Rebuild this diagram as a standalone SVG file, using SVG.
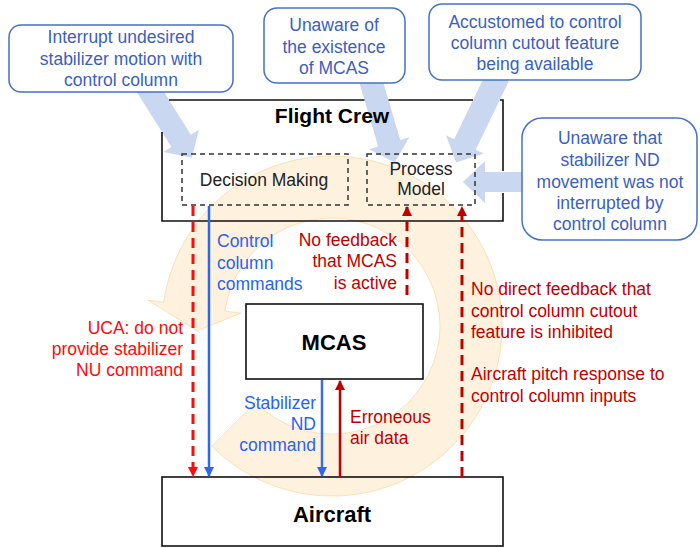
<svg xmlns="http://www.w3.org/2000/svg" width="700" height="548" viewBox="0 0 700 548">
  <style>
    text { font-family: "Liberation Sans", Arial, sans-serif; }
    .call { fill: #ffffff; stroke: #4472c4; stroke-width: 1.5; }
    .calltxt { fill: #3b5fbf; font-size: 17.5px; text-anchor: middle; }
    .box { fill: none; stroke: #111111; stroke-width: 1.6; }
    .dash { fill: none; stroke: #333333; stroke-width: 1.5; stroke-dasharray: 5 4; }
    .title { fill: #000000; font-size: 21px; font-weight: bold; text-anchor: middle; }
    .sub { fill: #222222; font-size: 17.5px; text-anchor: middle; }
    .lbl { font-size: 17.5px; }
    .blue { fill: #2a62f0; }
    .red { fill: #ff0a0a; }
    .dred { fill: #c00000; }
    .blk { fill: #cad7f0; }
  </style>
  <defs>
    <marker id="hBlue" viewBox="0 0 10 10" refX="9" refY="5" markerWidth="10" markerHeight="11" markerUnits="userSpaceOnUse" orient="auto">
      <path d="M0,0 L10,5 L0,10 Z" fill="#2e66e8"/>
    </marker>
    <marker id="hRed" viewBox="0 0 10 10" refX="9" refY="5" markerWidth="10" markerHeight="11" markerUnits="userSpaceOnUse" orient="auto">
      <path d="M0,0 L10,5 L0,10 Z" fill="#ff0a0a"/>
    </marker>
    <marker id="hDred" viewBox="0 0 10 10" refX="9" refY="5" markerWidth="10" markerHeight="11" markerUnits="userSpaceOnUse" orient="auto">
      <path d="M0,0 L10,5 L0,10 Z" fill="#c00000"/>
    </marker>
  </defs>

  <!-- background control-loop ring -->
  <path id="loop" d="M211.8,446.2 A170,170 0 1 0 163.7,302.3 L147.8,300.1 L197.1,330.7 L240.9,313.2 L225.0,311.0 A108,108 0 1 1 255.6,402.4 Z"
        fill="#fbd9a0" fill-opacity="0.35" stroke="#f8c880" stroke-opacity="0.5" stroke-width="1"/>

  <!-- block arrows from the mental-model callouts -->
  <g id="callout-arrows">
    <g transform="translate(146,85) rotate(57.8)">
      <path class="blk" d="M0,-11.5 L66,-11.5 L66,-21 L86,0 L66,21 L66,11.5 L0,11.5 Z"/>
    </g>
    <g transform="translate(370,78) rotate(73.6)">
      <path class="blk" d="M0,-11.5 L68,-11.5 L68,-21 L88,0 L68,21 L68,11.5 L0,11.5 Z"/>
    </g>
    <g transform="translate(498,76) rotate(115.8)">
      <path class="blk" d="M0,-12 L76,-12 L76,-21 L96,0 L76,21 L76,12 L0,12 Z"/>
    </g>
    <g transform="translate(530,182) rotate(180)">
      <path class="blk" d="M0,-10 L45,-10 L45,-21 L67,0 L45,21 L45,10 L0,10 Z"/>
    </g>
  </g>

  <!-- Flight Crew controller (outline broken where the callout arrows pass) -->
  <g id="flight-crew">
    <path class="box" d="M162,132 V221 H503 V193 M503,171 V100 H500 M473,100 H388.5 M364.5,100 H169"/>
    <text class="title" x="332" y="123">Flight Crew</text>
  </g>
  <g id="decision-making">
    <rect class="dash" x="182" y="154" width="166" height="51"/>
    <text class="sub" x="264" y="186">Decision Making</text>
  </g>
  <g id="process-model">
    <rect class="dash" x="367" y="154" width="108" height="51"/>
    <text class="sub" x="421" y="175">Process</text>
    <text class="sub" x="421" y="195">Model</text>
  </g>

  <!-- MCAS controller -->
  <g id="mcas">
    <rect class="box" x="246" y="304" width="177" height="75" style="fill:#ffffff"/>
    <text class="title" x="334" y="350" style="font-size:22px">MCAS</text>
  </g>

  <!-- Controlled process -->
  <g id="aircraft">
    <rect class="box" x="162" y="477" width="341" height="69"/>
    <text class="title" x="332" y="522" style="font-size:22px">Aircraft</text>
  </g>

  <!-- control actions and feedback -->
  <g id="connectors">
    <line x1="193" y1="206" x2="193" y2="476" stroke="#ff0a0a" stroke-width="3" stroke-dasharray="10 6" marker-end="url(#hRed)"/>
    <line x1="209" y1="206" x2="209" y2="476" stroke="#2e66e8" stroke-width="2.5" marker-end="url(#hBlue)"/>
    <line x1="407" y1="295" x2="407" y2="207" stroke="#c00000" stroke-width="3" stroke-dasharray="10 6" marker-end="url(#hDred)"/>
    <line x1="462" y1="477" x2="462" y2="207" stroke="#c00000" stroke-width="3" stroke-dasharray="10 6" marker-end="url(#hDred)"/>
    <line x1="322" y1="380" x2="322" y2="476" stroke="#3a6fe0" stroke-width="2.5" marker-end="url(#hBlue)"/>
    <line x1="340" y1="477" x2="340" y2="381" stroke="#c00000" stroke-width="2.5" marker-end="url(#hDred)"/>
  </g>

  <!-- connector labels -->
  <g id="labels" class="lbl">
    <text class="blue" x="217" y="247">Control</text>
    <text class="blue" x="217" y="269">column</text>
    <text class="blue" x="217" y="290">commands</text>

    <text class="dred" x="397" y="246" text-anchor="end">No feedback</text>
    <text class="dred" x="397" y="267" text-anchor="end">that MCAS</text>
    <text class="dred" x="397" y="289" text-anchor="end">is active</text>

    <text class="red" x="183" y="334" text-anchor="end">UCA: do not</text>
    <text class="red" x="183" y="355" text-anchor="end">provide stabilizer</text>
    <text class="red" x="183" y="376" text-anchor="end">NU command</text>

    <text class="dred" x="471" y="295">No direct feedback that</text>
    <text class="dred" x="471" y="317">control column cutout</text>
    <text class="dred" x="471" y="338">feature is inhibited</text>

    <text class="dred" x="471" y="380">Aircraft pitch response to</text>
    <text class="dred" x="471" y="402">control column inputs</text>

    <text class="blue" x="316" y="409" text-anchor="end">Stabilizer</text>
    <text class="blue" x="316" y="430" text-anchor="end">ND</text>
    <text class="blue" x="316" y="451" text-anchor="end">command</text>

    <text class="dred" x="350" y="423">Erroneous</text>
    <text class="dred" x="350" y="444">air data</text>
  </g>

  <!-- callouts -->
  <g id="callout-interrupt">
    <rect class="call" x="9" y="25" width="224" height="67" rx="12"/>
    <text class="calltxt" x="121" y="43">Interrupt undesired</text>
    <text class="calltxt" x="121" y="65">stabilizer motion with</text>
    <text class="calltxt" x="121" y="86">control column</text>
  </g>
  <g id="callout-unaware-mcas">
    <rect class="call" x="264" y="8" width="141" height="75" rx="13"/>
    <text class="calltxt" x="334" y="31">Unaware of</text>
    <text class="calltxt" x="334" y="53">the existence</text>
    <text class="calltxt" x="334" y="74">of MCAS</text>
  </g>
  <g id="callout-accustomed">
    <rect class="call" x="429" y="4" width="212" height="76" rx="13"/>
    <text class="calltxt" x="535" y="28">Accustomed to control</text>
    <text class="calltxt" x="535" y="49">column cutout feature</text>
    <text class="calltxt" x="535" y="70">being available</text>
  </g>
  <g id="callout-unaware-nd">
    <rect class="call" x="522" y="118" width="175" height="122" rx="20"/>
    <text class="calltxt" x="610" y="144">Unaware that</text>
    <text class="calltxt" x="610" y="166">stabilizer ND</text>
    <text class="calltxt" x="610" y="188">movement was not</text>
    <text class="calltxt" x="610" y="209">interrupted by</text>
    <text class="calltxt" x="610" y="230">control column</text>
  </g>
</svg>
